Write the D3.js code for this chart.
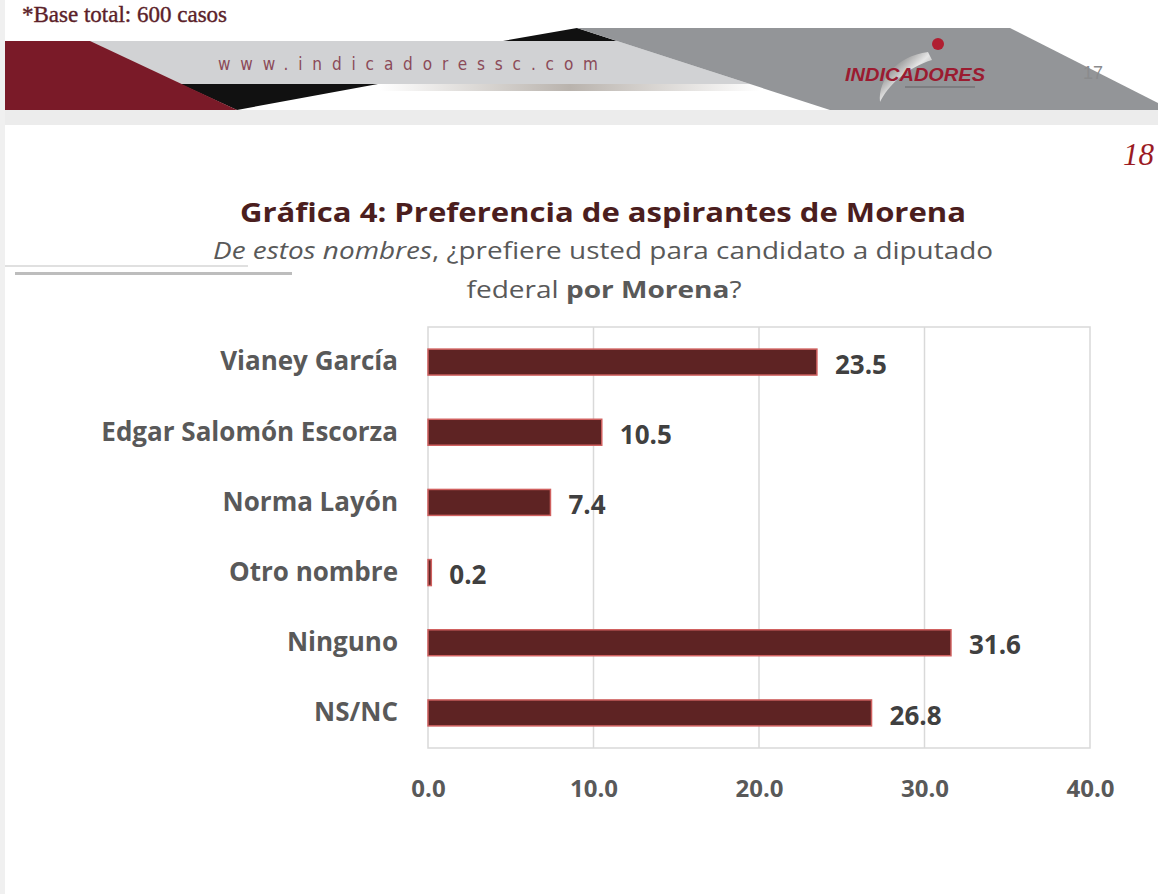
<!DOCTYPE html>
<html>
<head>
<meta charset="utf-8">
<script src="https://cdn.jsdelivr.net/npm/d3@7"></script>
<style>
  body { margin: 0; background: #fff; }
  svg { display: block; }
</style>
</head>
<body>
<svg width="1158" height="894"></svg>
<script>
var svg = d3.select("svg"),
    width = +svg.attr("width"),
    height = +svg.attr("height");

// data
var categories = ["Vianey García", "Edgar Salomón Escorza", "Norma Layón", "Otro nombre", "Ninguno", "NS/NC"];
var values = [23.5, 10.5, 7.4, 0.2, 31.6, 26.8];
var xTicks = [0, 10, 20, 30, 40];

var barFill = "#5e2323",
    barStroke = "#d0605f",
    grey = "#595959";

// ---- page frame / banner ----
svg.append("rect").attr("width", width).attr("height", height).attr("fill", "#fff");
svg.append("rect").attr("x", 0).attr("y", 0).attr("width", 5).attr("height", height).attr("fill", "#f0f0f0");

svg.append("text")
    .attr("x", 22).attr("y", 22)
    .attr("font-family", "Liberation Serif, DejaVu Serif, serif")
    .attr("font-size", 23)
    .attr("fill", "#5c1f2a")
    .attr("stroke", "#5c1f2a").attr("stroke-width", 0.4)
    .text("*Base total: 600 casos");

var defs = svg.append("defs");
var shadow = defs.append("linearGradient").attr("id", "shadow").attr("x1", 0).attr("x2", 1);
shadow.append("stop").attr("offset", "0").attr("stop-color", "#fff");
shadow.append("stop").attr("offset", "0.5").attr("stop-color", "#b9b3ad");
shadow.append("stop").attr("offset", "1").attr("stop-color", "#fff");
var swoosh = defs.append("linearGradient").attr("id", "swoosh").attr("x1", 0).attr("y1", 0).attr("x2", 1).attr("y2", 1);
swoosh.append("stop").attr("offset", "0").attr("stop-color", "#3a3a3a");
swoosh.append("stop").attr("offset", "0.5").attr("stop-color", "#e6e6e6");
swoosh.append("stop").attr("offset", "1").attr("stop-color", "#555");

var banner = svg.append("g").attr("class", "banner");
banner.append("rect").attr("x", 5).attr("y", 28).attr("width", width - 5).attr("height", 82).attr("fill", "#fff");
// light grey strip
banner.append("polygon").attr("points", "90,41 617,41 750,84 90,84").attr("fill", "#d1d2d4");
// shadow under strip
banner.append("rect").attr("x", 380).attr("y", 84).attr("width", 380).attr("height", 7).attr("fill", "url(#shadow)");
// black wedges
banner.append("polygon").attr("points", "180,84 378,84 237,110").attr("fill", "#111");
banner.append("polygon").attr("points", "503,41 577,28 617,41").attr("fill", "#111");
// dark grey block
banner.append("polygon").attr("points", "577,28 1010,28 1158,103 1158,110 830,110 617,41").attr("fill", "#939598");
// maroon block
banner.append("polygon").attr("points", "5,41 90,41 237,110 5,110").attr("fill", "#7a1a28");
// strip below banner
banner.append("rect").attr("x", 5).attr("y", 110).attr("width", width - 5).attr("height", 15).attr("fill", "#ececec");

banner.append("text")
    .attr("x", 218).attr("y", 70)
    .attr("font-family", "Liberation Sans Narrow, DejaVu Sans Condensed, sans-serif")
    .attr("font-size", 17)
    .attr("fill", "#8b4a58")
    .attr("textLength", 380)
    .attr("lengthAdjust", "spacing")
    .text("www.indicadoressc.com");

// logo
banner.append("path")
    .attr("d", "M928,52 C896,56 878,80 880,102 C888,86 906,68 932,60 Z")
    .attr("fill", "url(#swoosh)");
banner.append("circle").attr("cx", 938).attr("cy", 44).attr("r", 6).attr("fill", "#b01e30");
banner.append("text")
    .attr("x", 845).attr("y", 81)
    .attr("font-family", "Liberation Sans, Arial, sans-serif")
    .attr("font-size", 18).attr("font-weight", "bold").attr("font-style", "italic")
    .attr("fill", "#9b1b30")
    .attr("textLength", 140).attr("lengthAdjust", "spacingAndGlyphs")
    .text("INDICADORES");
banner.append("rect").attr("x", 905).attr("y", 86).attr("width", 70).attr("height", 2).attr("fill", "#6d6e70").attr("opacity", 0.6);
banner.append("text")
    .attr("x", 1083).attr("y", 79)
    .attr("font-family", "Liberation Sans, Arial, sans-serif")
    .attr("font-size", 18)
    .attr("fill", "#8a8b8d")
    .text("17");

svg.append("text")
    .attr("x", 1154).attr("y", 165)
    .attr("text-anchor", "end")
    .attr("font-family", "Liberation Serif, DejaVu Serif, serif")
    .attr("font-size", 31).attr("font-style", "italic")
    .attr("fill", "#9b1b24")
    .text("18");

// decorative rules at the left
svg.append("rect").attr("x", 5).attr("y", 265).attr("width", 243).attr("height", 2).attr("fill", "#e0e0e0");
svg.append("rect").attr("x", 15).attr("y", 272).attr("width", 277).attr("height", 3).attr("fill", "#bdbdbd");

// ---- titles ----
svg.append("text")
    .attr("x", 603).attr("y", 222)
    .attr("text-anchor", "middle")
    .attr("font-family", "Open Sans, sans-serif")
    .attr("font-size", 27).attr("font-weight", "bold")
    .attr("fill", "#4b1e1e")
    .attr("textLength", 726).attr("lengthAdjust", "spacingAndGlyphs")
    .text("Gráfica 4: Preferencia de aspirantes de Morena");

var sub1 = svg.append("text")
    .attr("x", 603).attr("y", 259)
    .attr("text-anchor", "middle")
    .attr("font-family", "Open Sans, sans-serif")
    .attr("font-size", 24)
    .attr("fill", grey)
    .attr("textLength", 780).attr("lengthAdjust", "spacingAndGlyphs");
sub1.append("tspan").attr("font-style", "italic").text("De estos nombres");
sub1.append("tspan").text(", ¿prefiere usted para candidato a diputado");

var sub2 = svg.append("text")
    .attr("x", 604).attr("y", 298)
    .attr("text-anchor", "middle")
    .attr("font-family", "Open Sans, sans-serif")
    .attr("font-size", 24)
    .attr("fill", grey)
    .attr("textLength", 275).attr("lengthAdjust", "spacingAndGlyphs");
sub2.append("tspan").text("federal ");
sub2.append("tspan").attr("font-weight", "bold").text("por Morena");
sub2.append("tspan").text("?");

// ---- chart ----
var plot = { left: 428, right: 1090, top: 327, bottom: 748 };

var x = d3.scaleLinear()
    .domain([0, 40])
    .range([plot.left, plot.right]);

var y = d3.scaleBand()
    .domain(categories)
    .range([plot.top, plot.bottom])
    .paddingInner(0.63)
    .paddingOuter(0.315);

var chart = svg.append("g").attr("class", "chart");

chart.append("rect")
    .attr("x", plot.left).attr("y", plot.top)
    .attr("width", plot.right - plot.left).attr("height", plot.bottom - plot.top)
    .attr("fill", "none").attr("stroke", "#d9d9d9").attr("stroke-width", 1.5);

chart.append("g")
    .attr("class", "grid")
    .selectAll("line")
    .data(xTicks.slice(1, -1))
    .enter().append("line")
    .attr("x1", d => x(d)).attr("x2", d => x(d))
    .attr("y1", plot.top).attr("y2", plot.bottom)
    .attr("stroke", "#d9d9d9").attr("stroke-width", 1.5);

var xAxis = chart.append("g")
    .attr("transform", "translate(0," + plot.bottom + ")")
    .call(d3.axisBottom(x).tickValues(xTicks).tickFormat(d3.format(".1f")).tickSize(0).tickPadding(32));
xAxis.select(".domain").remove();
xAxis.selectAll("text")
    .attr("font-family", "Open Sans, sans-serif")
    .attr("font-size", 24).attr("font-weight", "bold")
    .attr("fill", grey);

var yAxis = chart.append("g")
    .attr("transform", "translate(" + plot.left + ",0)")
    .call(d3.axisLeft(y).tickSize(0).tickPadding(30));
yAxis.select(".domain").remove();
yAxis.selectAll("text")
    .attr("font-family", "Open Sans, sans-serif")
    .attr("font-size", 26).attr("font-weight", "bold")
    .attr("fill", grey);

var rows = categories.map((c, i) => ({ name: c, value: values[i] }));

chart.selectAll(".bar")
    .data(rows)
    .enter().append("rect")
    .attr("class", "bar")
    .attr("x", x(0))
    .attr("y", d => y(d.name))
    .attr("width", d => x(d.value) - x(0))
    .attr("height", y.bandwidth())
    .attr("fill", barFill)
    .attr("stroke", barStroke)
    .attr("stroke-width", 1.5);

chart.selectAll(".value")
    .data(rows)
    .enter().append("text")
    .attr("class", "value")
    .attr("x", d => x(d.value) + 18)
    .attr("y", d => y(d.name) + y.bandwidth() / 2)
    .attr("dy", "0.45em")
    .attr("font-family", "Open Sans, sans-serif")
    .attr("font-size", 26).attr("font-weight", "bold")
    .attr("fill", "#404040")
    .text(d => d3.format(".1f")(d.value));
</script>
</body>
</html>
